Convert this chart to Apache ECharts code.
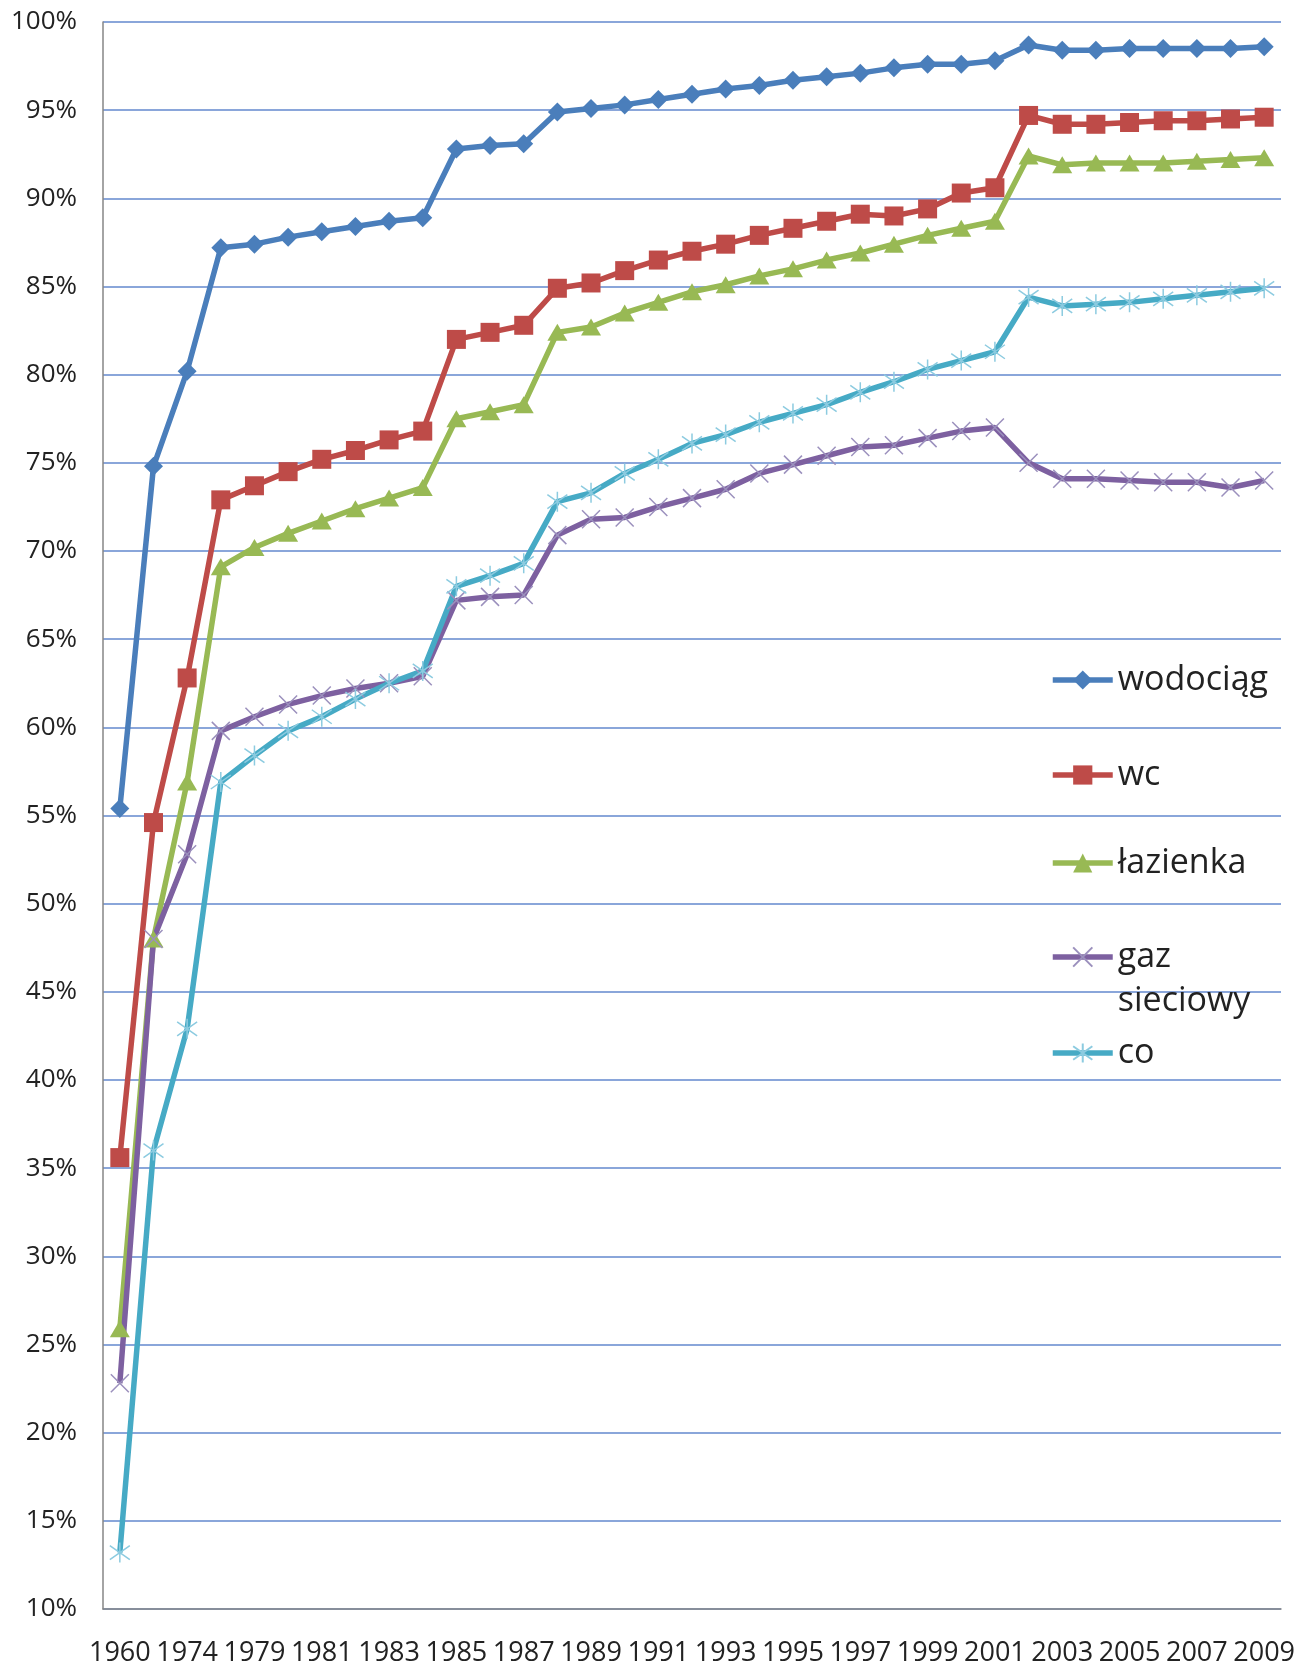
<!DOCTYPE html>
<html>
<head>
<meta charset="utf-8">
<script src="https://cdn.jsdelivr.net/npm/echarts@6/dist/echarts.min.js"></script>
<style>
html,body{margin:0;padding:0;background:#fff;}
#chart{width:1307px;height:1667px;}
</style>
</head>
<body>
<div id="chart"></div>
<script>
var years = ['1960','1970','1974','1978','1979','1980','1981','1982','1983','1984','1985','1986','1987','1988','1989','1990','1991','1992','1993','1994','1995','1996','1997','1998','1999','2000','2001','2002','2003','2004','2005','2006','2007','2008','2009'];

var wodociag = [55.4,74.8,80.2,87.2,87.4,87.8,88.1,88.4,88.7,88.9,92.8,93.0,93.1,94.9,95.1,95.3,95.6,95.9,96.2,96.4,96.7,96.9,97.1,97.4,97.6,97.6,97.8,98.7,98.4,98.4,98.5,98.5,98.5,98.5,98.6];
var wc = [35.6,54.6,62.8,72.9,73.7,74.5,75.2,75.7,76.3,76.8,82.0,82.4,82.8,84.9,85.2,85.9,86.5,87.0,87.4,87.9,88.3,88.7,89.1,89.0,89.4,90.3,90.6,94.7,94.2,94.2,94.3,94.4,94.4,94.5,94.6];
var lazienka = [25.9,48.0,56.9,69.1,70.2,71.0,71.7,72.4,73.0,73.6,77.5,77.9,78.3,82.4,82.7,83.5,84.1,84.7,85.1,85.6,86.0,86.5,86.9,87.4,87.9,88.3,88.7,92.4,91.9,92.0,92.0,92.0,92.1,92.2,92.3];
var gaz = [22.8,48.0,52.8,59.8,60.6,61.3,61.8,62.2,62.5,62.9,67.2,67.4,67.5,70.9,71.8,71.9,72.5,73.0,73.5,74.4,74.9,75.4,75.9,76.0,76.4,76.8,77.0,75.0,74.1,74.1,74.0,73.9,73.9,73.6,74.0];
var co = [13.2,36.0,42.9,56.9,58.4,59.8,60.6,61.6,62.5,63.2,68.0,68.6,69.3,72.8,73.3,74.4,75.2,76.1,76.6,77.3,77.8,78.3,79.0,79.6,80.3,80.8,81.3,84.4,83.9,84.0,84.1,84.3,84.5,84.7,84.9];

var seriesNames = ['wodociąg','wc','łazienka','gaz sieciowy','co'];
var yMin = 10, yMax = 100, yStep = 5;

var FONT = "'Open Sans', 'Noto Sans', sans-serif";
var chart = echarts.init(document.getElementById('chart'), null, {renderer:'canvas'});

var X_PATH = 'path://M0,0L10,10M0,10L10,0';
var STAR_PATH = 'path://M0,1.5L10,8.5M0,8.5L10,1.5M5,0L5,10';

function lineSeries(name, data, color, symbol, size, itemStyle) {
  return {
    name: name, type: 'line', data: data,
    symbol: symbol, symbolSize: size, symbolKeepAspect: false,
    lineStyle: {color: color, width: 5.5},
    itemStyle: itemStyle || {color: color},
    emphasis: {disabled: true},
    animation: false, z: 3
  };
}

function legendAt(name, top, extra) {
  var l = {
    data: [name], orient: 'vertical',
    left: 1050, top: top, padding: 0,
    itemWidth: 60, itemHeight: 24, itemGap: 0,
    selectedMode: false,
    lineStyle: {width: 5.5},
    textStyle: {fontSize: 34, color: '#222', fontFamily: FONT}
  };
  if (extra) { for (var k in extra) l[k] = extra[k]; }
  return l;
}

var option = {
  backgroundColor: '#ffffff',
  animation: false,
  grid: {left: 103, right: 26, top: 22, bottom: 58, containLabel: false},
  xAxis: {
    type: 'category', data: years, boundaryGap: true,
    axisLine: {show: true, lineStyle: {color: '#868686', width: 1.5}},
    axisTick: {show: false},
    axisLabel: {interval: 1, fontSize: 27, color: '#222', fontFamily: FONT, margin: 31}
  },
  yAxis: {
    type: 'value', min: yMin, max: yMax, interval: yStep,
    axisLine: {show: true, lineStyle: {color: '#868686', width: 1.5}},
    axisTick: {show: false},
    splitLine: {show: true, lineStyle: {color: '#8AA6DA', width: 2}},
    axisLabel: {formatter: '{value}%', fontSize: 26, color: '#222', fontFamily: FONT, margin: 26}
  },
  legend: [
    legendAt(seriesNames[0], 680 - 17),
    legendAt(seriesNames[1], 775 - 17),
    legendAt(seriesNames[2], 863 - 17),
    legendAt(seriesNames[3], 957 - 66, {
      formatter: function(){ return '\ngaz\nsieciowy'; },
      textStyle: {fontSize: 34, color: '#222', fontFamily: FONT, lineHeight: 44}
    }),
    legendAt(seriesNames[4], 1053 - 17)
  ],
  series: [
    lineSeries(seriesNames[0], wodociag, '#4A7EBB', 'diamond', 19),
    lineSeries(seriesNames[1], wc, '#BE4B48', 'rect', 19),
    lineSeries(seriesNames[2], lazienka, '#98B954', 'triangle', [20,17]),
    lineSeries(seriesNames[3], gaz, '#7D60A0', X_PATH, 18, {color: 'none', borderColor: '#9B90BD', borderWidth: 1.5}),
    lineSeries(seriesNames[4], co, '#46AAC5', STAR_PATH, 20, {color: 'none', borderColor: '#8CCBE0', borderWidth: 1.5})
  ]
};
chart.setOption(option);
</script>
</body>
</html>
